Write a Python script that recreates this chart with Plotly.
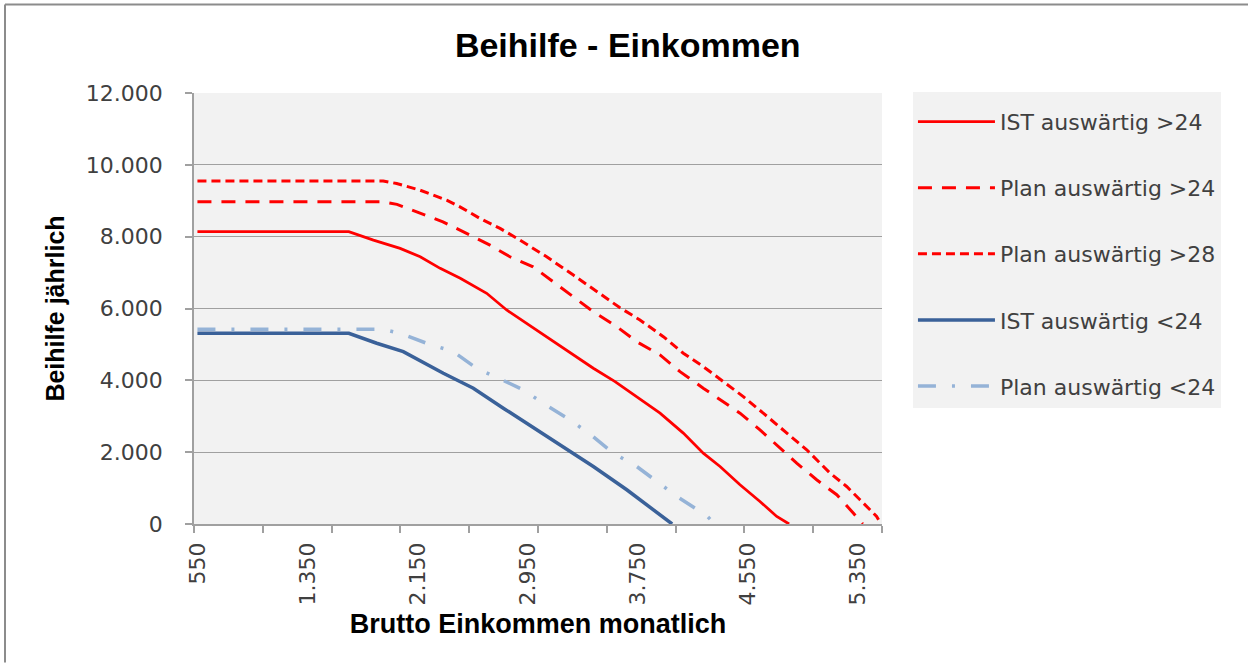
import plotly.graph_objects as go

# ---- data ----
ist_gt24_x = [550, 1650, 1829, 2023, 2169, 2314, 2460, 2652, 2797, 2943, 3088, 3233, 3427, 3585, 3742, 3912, 4081, 4226, 4348, 4493, 4638, 4760, 4850]
ist_gt24_y = [8140, 8140, 7905, 7673, 7440, 7118, 6840, 6423, 5958, 5588, 5216, 4846, 4337, 3965, 3548, 3086, 2530, 1974, 1602, 1093, 628, 211, 0]

plan_gt24_x = [550, 1900, 2000, 2167, 2334, 2531, 2676, 2821, 2989, 3135, 3280, 3427, 3597, 3742, 3912, 4057, 4226, 4372, 4493, 4638, 4783, 4905, 5050, 5196, 5316, 5385]
plan_gt24_y = [8970, 8970, 8900, 8647, 8413, 8043, 7766, 7440, 7162, 6745, 6328, 5911, 5494, 5077, 4707, 4243, 3781, 3409, 3086, 2622, 2113, 1696, 1232, 815, 306, 0]

plan_gt28_x = [550, 1900, 1998, 2167, 2361, 2458, 2603, 2749, 2894, 3088, 3282, 3475, 3621, 3766, 3936, 4081, 4226, 4372, 4517, 4662, 4808, 4978, 5147, 5268, 5365, 5486, 5500]
plan_gt28_y = [9550, 9550, 9480, 9295, 9017, 8830, 8508, 8230, 7905, 7440, 6930, 6420, 6020, 5680, 5216, 4754, 4382, 3965, 3548, 3086, 2622, 2066, 1418, 1045, 676, 211, 120]

ist_lt24_x = [550, 1650, 1853, 2046, 2337, 2555, 2773, 3015, 3233, 3427, 3670, 3863, 4000]
ist_lt24_y = [5310, 5310, 5032, 4799, 4198, 3781, 3225, 2622, 2066, 1602, 954, 398, 0]

plan_lt24_x = [550, 1900, 2022, 2216, 2409, 2579, 2749, 2918, 3088, 3258, 3415, 3572, 3742, 3887, 4045, 4251, 4310]
plan_lt24_y = [5420, 5420, 5310, 5032, 4799, 4336, 4040, 3734, 3297, 2900, 2463, 1974, 1602, 1184, 740, 231, 0]

names = ["IST auswärtig >24", "Plan auswärtig >24", "Plan auswärtig >28",
         "IST auswärtig <24", "Plan auswärtig <24"]

x_label_vals = [550, 1350, 2150, 2950, 3750, 4550, 5350]
x_label_text = ["550", "1.350", "2.150", "2.950", "3.750", "4.550", "5.350"]
x_tick_marks = [525, 1025, 1525, 2025, 2525, 3025, 3525, 4025, 4525, 5025, 5525]
y_tick_vals = [0, 2000, 4000, 6000, 8000, 10000, 12000]
y_tick_text = ["0", "2.000", "4.000", "6.000", "8.000", "10.000", "12.000"]

series = [
    (ist_gt24_x, ist_gt24_y, dict(color="#ff0000", width=2.75, dash="solid")),
    (plan_gt24_x, plan_gt24_y, dict(color="#ff0000", width=3, dash="14px,10px")),
    (plan_gt28_x, plan_gt28_y, dict(color="#ff0000", width=3, dash="9px,5px")),
    (ist_lt24_x, ist_lt24_y, dict(color="#3a6199", width=3.5, dash="solid")),
    (plan_lt24_x, plan_lt24_y, dict(color="#95b3d7", width=3.5, dash="18px,16px,3px,16px")),
]

fig = go.Figure()
for i, (xs, ys, ln) in enumerate(series):
    fig.add_trace(go.Scatter(x=xs, y=ys, mode="lines", name=names[i], line=ln,
                             legendgroup=f"g{i}", hoverinfo="skip"))

GRAY = "#a0a0a0"
TICKFONT = dict(family="DejaVu Sans", size=22, color="#404040")

fig.update_layout(
    width=1248, height=663,
    margin=dict(l=194, r=366, t=93, b=139),
    paper_bgcolor="white",
    plot_bgcolor="#f2f2f2",
    title=dict(text="<b>Beihilfe - Einkommen</b>", x=0.503, xref="container", xanchor="center",
               y=1 - 45 / 663, yref="container", yanchor="middle",
               font=dict(family="Liberation Sans", size=34, color="black")),
    legend=dict(x=1.045, xanchor="left", y=1.003, yanchor="top",
                bgcolor="#f2f2f2", font=TICKFONT, tracegroupgap=34.5,
                itemwidth=77,
                title=dict(text=" ", font=dict(size=7))),
    showlegend=True,
)

fig.update_xaxes(
    range=[525, 5525],
    tickmode="array", tickvals=x_label_vals, ticktext=x_label_text,
    tickangle=-90, ticks="", ticklabelstandoff=8,
    tickfont=TICKFONT,
    showgrid=False, zeroline=False,
    showline=True, linecolor=GRAY, linewidth=1.5,
    minor=dict(tickmode="array", tickvals=x_tick_marks, ticks="outside",
               ticklen=7, tickcolor=GRAY, tickwidth=1.5, showgrid=False),
    title=dict(text="<b>Brutto Einkommen monatlich</b>", standoff=10,
               font=dict(family="Liberation Sans", size=27, color="black")),
)

fig.update_yaxes(
    range=[0, 12000],
    tickmode="array", tickvals=y_tick_vals, ticktext=y_tick_text,
    ticks="outside", ticklen=7, tickcolor=GRAY, tickwidth=1.5,
    ticklabelstandoff=18,
    tickfont=TICKFONT,
    showgrid=True, gridcolor=GRAY, gridwidth=1.3, zeroline=False,
    showline=True, linecolor=GRAY, linewidth=1.5,
    title=dict(text="<b>Beihilfe jährlich</b>", standoff=14,
               font=dict(family="Liberation Sans", size=25, color="black")),
)

# outer chart border (left and top edges visible in the reference)
fig.add_shape(type="line", xref="paper", yref="paper",
              x0=(5 - 194) / 688, x1=(5 - 194) / 688, y0=(524.3 - 663) / 431.6, y1=(524.3 - 4) / 431.6,
              line=dict(color="#8c8c8c", width=2))
fig.add_shape(type="line", xref="paper", yref="paper",
              x0=(5 - 194) / 688, x1=(1248 - 194) / 688, y0=(524.3 - 4) / 431.6, y1=(524.3 - 4) / 431.6,
              line=dict(color="#8c8c8c", width=2))

fig.write_html("out.html", config={"displayModeBar": False},
               post_script="document.body.style.margin='0';document.body.style.overflow='hidden';")
